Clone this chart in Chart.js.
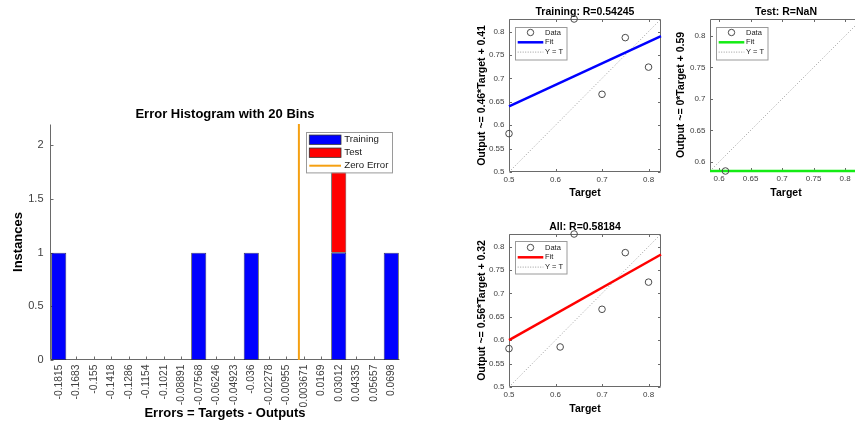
<!DOCTYPE html>
<html>
<head>
<meta charset="utf-8">
<script src="https://cdn.jsdelivr.net/npm/chart.js@4.4.1/dist/chart.umd.min.js"></script>
<style>
  html, body { margin: 0; padding: 0; background: #fff; overflow: hidden; width: 855px; height: 421px; }
  .panel { position: absolute; }
  canvas { display: block; }
</style>
</head>
<body>
<div class="panel" style="left:0;top:0"><canvas id="hist" width="430" height="421"></canvas></div>
<div class="panel" style="left:470px;top:0"><canvas id="train" width="200" height="200"></canvas></div>
<div class="panel" style="left:670px;top:0"><canvas id="test" width="200" height="200"></canvas></div>
<div class="panel" style="left:470px;top:200px"><canvas id="all" width="200" height="221"></canvas></div>
<script>
// error histogram
const binLabels = ['-0.1815', '-0.1683', '-0.155', '-0.1418', '-0.1286', '-0.1154', '-0.1021', '-0.08891',
  '-0.07568', '-0.06246', '-0.04923', '-0.036', '-0.02278', '-0.00955', '0.003671', '0.0169',
  '0.03012', '0.04335', '0.05657', '0.0698'];
const trainingCounts = [1, 0, 0, 0, 0, 0, 0, 0, 1, 0, 0, 1, 0, 0, 0, 0, 1, 0, 0, 1];
const testCounts     = [0, 0, 0, 0, 0, 0, 0, 0, 0, 0, 0, 0, 0, 0, 0, 0, 1, 0, 0, 0];
const zeroError = 0;
const instanceTicks = [0, 0.5, 1, 1.5, 2];
const instanceMax = 2.2;

// regression panels
const trainTargets = [0.5, 0.64, 0.70, 0.75, 0.80];
const trainOutputs = [0.582, 0.8268, 0.666, 0.787, 0.724];
const testTargets = [0.61];
const testOutputs = [0.5855];
const trainFit = [0.46, 0.41];   // slope, intercept
const testFit = [0, 0.5855];
const allFit = [0.56, 0.32];
const trainR = '0.54245';
const testR = 'NaN';
const allR = '0.58184';
const trainLimits = [0.5, 0.8268];
const testLimits = [0.5855, 0.8268];
const allLimits = [0.5, 0.8268];
const wideYTicks = [0.5, 0.55, 0.6, 0.65, 0.7, 0.75, 0.8];
const wideXTicks = [0.5, 0.6, 0.7, 0.8];
const testTicks = [0.6, 0.65, 0.7, 0.75, 0.8];

Chart.defaults.font.family = '"Liberation Sans", Arial, Helvetica, sans-serif';
Chart.defaults.color = '#404040';

const AXIS = '#6a6a6a';

function drawLegend(ctx, a, lg) {
  const x = lg.alignRight ? a.right - lg.dx - lg.w : a.left + lg.dx;
  const y = a.top + lg.dy;
  ctx.setLineDash([]);
  ctx.fillStyle = '#fff';
  ctx.fillRect(x, y, lg.w, lg.h);
  ctx.strokeStyle = '#9a9a9a';
  ctx.lineWidth = 1;
  ctx.strokeRect(Math.round(x) + 0.5, Math.round(y) + 0.5, lg.w, lg.h);
  ctx.font = lg.font;
  ctx.textBaseline = 'middle';
  ctx.textAlign = 'left';
  lg.items.forEach((it, i) => {
    const cy = y + lg.row0 + i * lg.rowH;
    const s0 = x + lg.s0, s1 = x + lg.s1;
    if (it.kind === 'patch') {
      ctx.fillStyle = it.color;
      ctx.fillRect(s0, cy - lg.patchH / 2, s1 - s0, lg.patchH);
      ctx.strokeStyle = '#303030';
      ctx.lineWidth = 0.8;
      ctx.strokeRect(s0, cy - lg.patchH / 2, s1 - s0, lg.patchH);
    } else if (it.kind === 'marker') {
      ctx.strokeStyle = it.color;
      ctx.lineWidth = 1;
      ctx.beginPath();
      ctx.arc((s0 + s1) / 2, cy, 3.2, 0, Math.PI * 2);
      ctx.stroke();
    } else {
      ctx.strokeStyle = it.color;
      ctx.lineWidth = it.width || 1;
      ctx.setLineDash(it.dash || []);
      ctx.beginPath();
      ctx.moveTo(s0, cy);
      ctx.lineTo(s1, cy);
      ctx.stroke();
      ctx.setLineDash([]);
    }
    ctx.fillStyle = '#1a1a1a';
    ctx.fillText(it.label, x + lg.tx, cy);
  });
}

// MATLAB style axes: inward ticks, optional box (under the data), legend inside the axes (on top)
const matlabAxes = {
  id: 'matlabAxes',
  beforeDatasetsDraw(chart, args, o) {
    const {ctx, chartArea: a} = chart;
    const xs = chart.scales.x, ys = chart.scales.y;
    const L = Math.round(a.left) + 0.5, R = Math.round(a.right) - 0.5;
    const T = Math.round(a.top) + 0.5, B = Math.round(a.bottom) - 0.5;
    const tl = o.tickLength;
    ctx.save();
    ctx.strokeStyle = AXIS;
    ctx.lineWidth = 1;
    ctx.beginPath();
    xs.ticks.forEach((t, i) => {
      const px = Math.round(xs.getPixelForTick(i)) + 0.5;
      ctx.moveTo(px, B); ctx.lineTo(px, B - tl);
      if (o.box) { ctx.moveTo(px, T); ctx.lineTo(px, T + tl); }
    });
    ys.ticks.forEach((t, i) => {
      const py = Math.round(ys.getPixelForTick(i)) + 0.5;
      ctx.moveTo(L, py); ctx.lineTo(L + tl, py);
      if (o.box) { ctx.moveTo(R, py); ctx.lineTo(R - tl, py); }
    });
    ctx.moveTo(L, T); ctx.lineTo(L, B); ctx.lineTo(R, B);
    if (o.box) { ctx.lineTo(R, T); ctx.lineTo(L, T); }
    ctx.stroke();
    ctx.restore();
  },
  afterDraw(chart, args, o) {
    if (!o.legend) return;
    chart.ctx.save();
    drawLegend(chart.ctx, chart.chartArea, o.legend);
    chart.ctx.restore();
  }
};

// ---------- histogram ----------
const binCenters = binLabels.map(Number);
const binWidth = (binCenters[binCenters.length - 1] - binCenters[0]) / (binCenters.length - 1);
// position of zero error on the category index axis
const zeroIndex = (zeroError - binCenters[0]) / binWidth;

new Chart(document.getElementById('hist'), {
  type: 'bar',
  plugins: [matlabAxes],
  data: {
    labels: binLabels,
    datasets: [
      {
        label: 'Training', data: trainingCounts, stack: 'e',
        backgroundColor: '#0000ff', borderColor: '#2a2a2a', borderWidth: 0.8, borderSkipped: false,
        barPercentage: 0.86, categoryPercentage: 1
      },
      {
        label: 'Test', data: testCounts, stack: 'e',
        backgroundColor: '#ff0000', borderColor: '#2a2a2a', borderWidth: 0.8, borderSkipped: false,
        barPercentage: 0.86, categoryPercentage: 1
      },
      {
        type: 'line', label: 'Zero Error', parsing: false,
        data: [{x: zeroIndex, y: 0}, {x: zeroIndex, y: instanceMax}],
        borderColor: '#f5a012', borderWidth: 2, pointRadius: 0, fill: false
      }
    ]
  },
  options: {
    responsive: false,
    animation: false,
    layout: {padding: {left: 0, right: 30, top: 0, bottom: 0}},
    plugins: {
      legend: {display: false},
      tooltip: {enabled: false},
      title: {
        display: true, fullSize: false, text: 'Error Histogram with 20 Bins', color: '#000',
        font: {size: 13, weight: 'bold'}, padding: {top: 106.2, bottom: 2.2}
      },
      matlabAxes: {
        box: false, tickLength: 3,
        legend: {
          alignRight: true, dx: 8.3, dy: 8.3, w: 86, h: 40.4, font: '9.7px "Liberation Sans", Arial, sans-serif',
          row0: 7.4, rowH: 13, s0: 3.6, s1: 35.3, tx: 38.6, patchH: 9.3,
          items: [
            {kind: 'patch', color: '#0000ff', label: 'Training'},
            {kind: 'patch', color: '#ff0000', label: 'Test'},
            {kind: 'line', color: '#f5a012', width: 2, label: 'Zero Error'}
          ]
        }
      }
    },
    scales: {
      x: {
        stacked: true,
        grid: {display: false, drawTicks: false},
        border: {display: false},
        ticks: {autoSkip: false, minRotation: 90, maxRotation: 90, padding: 4.5, font: {size: 10.3}},
        title: {display: true, text: 'Errors = Targets - Outputs', color: '#000', font: {size: 13, weight: 'bold'}, padding: {top: 0, bottom: 0.2}},
        afterFit: s => { s.height = 61; s.paddingLeft = 0; s.paddingRight = 0; }
      },
      y: {
        stacked: true, min: 0, max: instanceMax,
        grid: {display: false, drawTicks: false},
        border: {display: false},
        afterBuildTicks: s => { s.ticks = instanceTicks.map(v => ({value: v})); },
        ticks: {padding: 6.5, font: {size: 11}, callback: v => String(v)},
        title: {display: true, text: 'Instances', color: '#000', font: {size: 13, weight: 'bold'}, padding: {top: 10.2, bottom: 0}},
        afterFit: s => { s.width = 50; s.paddingTop = 0; s.paddingBottom = 0; }
      }
    }
  }
});

// ---------- regression panels ----------
function fitLabel(fit) {
  return 'Output ~= ' + Number(fit[0].toFixed(2)) + '*Target + ' + Number(fit[1].toFixed(2));
}

function regression(id, g) {
  const pts = g.targets.map((t, i) => ({x: t, y: g.outputs[i]}));
  const fitLine = g.limits.map(t => ({x: t, y: g.fit[0] * t + g.fit[1]}));
  const idLine = g.limits.map(t => ({x: t, y: t}));
  new Chart(document.getElementById(id), {
    type: 'scatter',
    plugins: [matlabAxes],
    data: {
      datasets: [
        {label: 'Data', data: pts, pointStyle: 'circle', pointRadius: 3.3, pointBorderWidth: 1,
          pointBorderColor: '#4a4a4a', pointBackgroundColor: 'rgba(0,0,0,0)', clip: false},
        {label: 'Fit', data: fitLine, showLine: true, borderColor: g.color, borderWidth: 2.5, pointRadius: 0, clip: false},
        {label: 'Y = T', data: idLine, showLine: true, borderColor: '#9a9a9a', borderWidth: 1, borderDash: [1, 2], pointRadius: 0}
      ]
    },
    options: {
      responsive: false,
      animation: false,
      layout: {padding: {left: 0, right: g.W - g.R, top: 0, bottom: 0}},
      plugins: {
        legend: {display: false},
        tooltip: {enabled: false},
        title: {
          display: true, fullSize: false, text: g.title, color: '#000',
          font: {size: 10.5, weight: 'bold'}, padding: {top: g.T - 0.7 - 12.6, bottom: 0.7}
        },
        matlabAxes: {
          box: true, tickLength: 2.5,
          legend: {
            alignRight: false, dx: 6, dy: 7.5, w: 51.5, h: 32.5, font: '7.5px "Liberation Sans", Arial, sans-serif',
            row0: 6, rowH: 9.8, s0: 2.7, s1: 28.3, tx: 30, patchH: 6,
            items: [
              {kind: 'marker', color: '#4a4a4a', label: 'Data'},
              {kind: 'line', color: g.color, width: 2.5, label: 'Fit'},
              {kind: 'line', color: '#9a9a9a', width: 1, dash: [1, 1.5], label: 'Y = T'}
            ]
          }
        }
      },
      scales: {
        x: {
          type: 'linear', min: g.limits[0], max: g.limits[1],
          grid: {display: false, drawTicks: false},
          border: {display: false},
          afterBuildTicks: s => { s.ticks = g.xTicks.map(v => ({value: v})); },
          ticks: {padding: 3.2, maxRotation: 0, autoSkip: false, font: {size: 8}, callback: v => String(v)},
          title: {display: true, text: 'Target', color: '#000', font: {size: 10.5, weight: 'bold'}, padding: {top: 0, bottom: g.xtb}},
          afterFit: s => { s.height = g.H - g.B; s.paddingLeft = 0; s.paddingRight = 0; }
        },
        y: {
          type: 'linear', min: g.limits[0], max: g.limits[1],
          grid: {display: false, drawTicks: false},
          border: {display: false},
          afterBuildTicks: s => { s.ticks = g.yTicks.map(v => ({value: v})); },
          ticks: {padding: 4.5, autoSkip: false, font: {size: 8}, callback: v => String(v)},
          title: {display: true, text: fitLabel(g.fit), color: '#000', font: {size: 10.5, weight: 'bold'}, padding: {top: g.ytp, bottom: 0}},
          afterFit: s => { s.width = g.L; s.paddingTop = 0; s.paddingBottom = 0; }
        }
      }
    }
  });
}

regression('train', {
  title: 'Training: R=' + trainR, targets: trainTargets, outputs: trainOutputs, fit: trainFit,
  limits: trainLimits, xTicks: wideXTicks, yTicks: wideYTicks, color: '#0000ff',
  W: 200, H: 200, L: 39, T: 19, R: 191, B: 172, xtb: 0.7, ytp: 5.4
});
regression('test', {
  title: 'Test: R=' + testR, targets: testTargets, outputs: testOutputs, fit: testFit,
  limits: testLimits, xTicks: testTicks, yTicks: testTicks, color: '#14ec14',
  W: 200, H: 200, L: 40, T: 19, R: 192, B: 171, xtb: 0.7, ytp: 4.4
});
regression('all', {
  title: 'All: R=' + allR, targets: trainTargets.concat(testTargets), outputs: trainOutputs.concat(testOutputs),
  fit: allFit, limits: allLimits, xTicks: wideXTicks, yTicks: wideYTicks, color: '#ff0000',
  W: 200, H: 221, L: 39, T: 34, R: 191, B: 187, xtb: 5.4, ytp: 5.4
});
</script>
</body>
</html>
